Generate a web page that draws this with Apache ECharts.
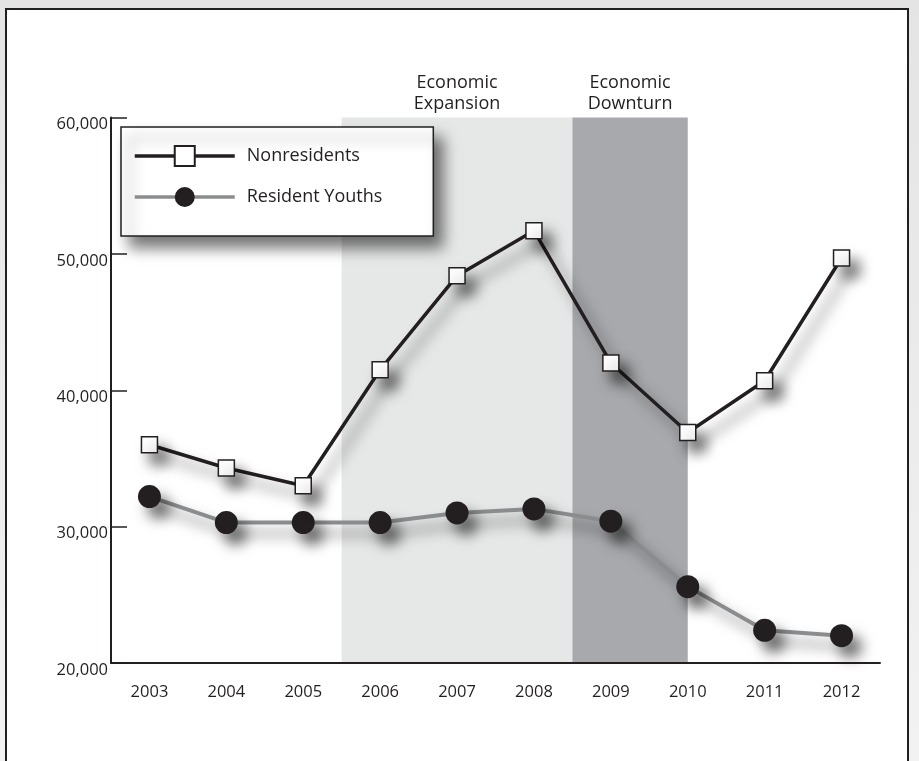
<!DOCTYPE html>
<html><head><meta charset="utf-8">
<script src="https://cdn.jsdelivr.net/npm/echarts@6/dist/echarts.min.js"></script>
<style>
html,body{margin:0;padding:0;width:919px;height:761px;overflow:hidden;background:linear-gradient(#e4e4e4,#f2f2f2);}
#frame{position:absolute;left:5px;top:8px;width:904px;height:760px;border:2px solid #231f20;background:#fff;box-sizing:border-box;}
#chart{position:absolute;left:0;top:0;width:919px;height:761px;}
</style></head><body>
<div id="frame"></div><div id="chart"></div>
<script>
const years = ['2003','2004','2005','2006','2007','2008','2009','2010','2011','2012'];
const nonresidents = [36000, 34300, 33000, 41500, 48400, 51700, 42000, 36900, 40700, 49700];
const residentYouths = [32200, 30300, 30300, 30300, 31000, 31300, 30400, 25600, 22400, 22000];
const yMin = 20000, yMax = 60000, yStep = 10000;
const periodNames = ['Economic\nExpansion', 'Economic\nDownturn'];
const periodStart = [3, 6];   // in category slots
const periodEnd = [6, 7.5];
const periodColors = ['#e6e7e7', '#a7a9ac'];

const ink = '#231f20';
const font = '"Open Sans", sans-serif';
const shadow = {shadowBlur: 14, shadowColor: 'rgba(0,0,0,0.55)', shadowOffsetX: 9, shadowOffsetY: 11};
const noShadow = {shadowBlur: 0, shadowColor: 'rgba(0,0,0,0)', shadowOffsetX: 0, shadowOffsetY: 0};

const chart = echarts.init(document.getElementById('chart'), null, {renderer: 'canvas'});
chart.setOption({
  animation: false,
  backgroundColor: 'transparent',
  grid: {left: 111, right: 39, top: 117.5, bottom: 98},
  xAxis: [{
    type: 'category', data: years, boundaryGap: true, z: 10,
    axisLine: {lineStyle: {color: ink, width: 2}},
    axisTick: {inside: true, length: 13, lineStyle: {color: ink, width: 1.5}},
    axisLabel: {margin: 21, fontSize: 16.5, color: ink, fontFamily: font}
  }, {
    type: 'value', min: 0, max: years.length, show: false
  }],
  yAxis: {
    type: 'value', min: yMin, max: yMax, interval: yStep, z: 10,
    splitLine: {show: false},
    axisLine: {show: true, lineStyle: {color: ink, width: 2}},
    axisTick: {show: true, inside: true, length: 16, lineStyle: {color: ink, width: 1.5}},
    axisLabel: {margin: 3, fontSize: 16.5, color: ink, fontFamily: font,
      verticalAlign: 'top', lineHeight: 14,
      formatter: v => v.toLocaleString('en-US')}
  },
  legend: {
    data: ['Nonresidents', 'Resident Youths'],
    left: 121, top: 127, orient: 'vertical',
    itemWidth: 100, itemHeight: 25, itemGap: 20,
    padding: [18, 51, 29, 12],
    backgroundColor: '#fff', borderColor: ink, borderWidth: 1.5, borderRadius: 0,
    ...shadow,
    textStyle: {fontSize: 18, color: ink, fontFamily: font, padding: [0, 0, 0, 7]},
    itemStyle: noShadow, lineStyle: {width: 3.5, ...noShadow}
  },
  series: [{
    type: 'line', xAxisIndex: 1, yAxisIndex: 0, data: [], silent: true,
    markArea: {
      silent: true,
      label: {position: 'top', distance: 3, color: ink, fontSize: 18, fontFamily: font, lineHeight: 21},
      data: periodNames.map((n, i) => [
        {name: n, xAxis: periodStart[i], yAxis: yMax, itemStyle: {color: periodColors[i]}},
        {xAxis: periodEnd[i], yAxis: yMin}
      ])
    }
  }, {
    name: 'Resident Youths', type: 'line', data: residentYouths, z: 4,
    symbol: 'circle', symbolSize: 23,
    itemStyle: {color: ink, ...shadow},
    lineStyle: {color: '#8a8c8e', width: 4, ...shadow}
  }, {
    name: 'Nonresidents', type: 'line', data: nonresidents, z: 5,
    symbol: 'rect', symbolSize: 16,
    itemStyle: {color: '#fff', borderColor: ink, borderWidth: 1.5, ...shadow},
    lineStyle: {color: ink, width: 3.5, ...shadow}
  }]
});
</script>
</body></html>
